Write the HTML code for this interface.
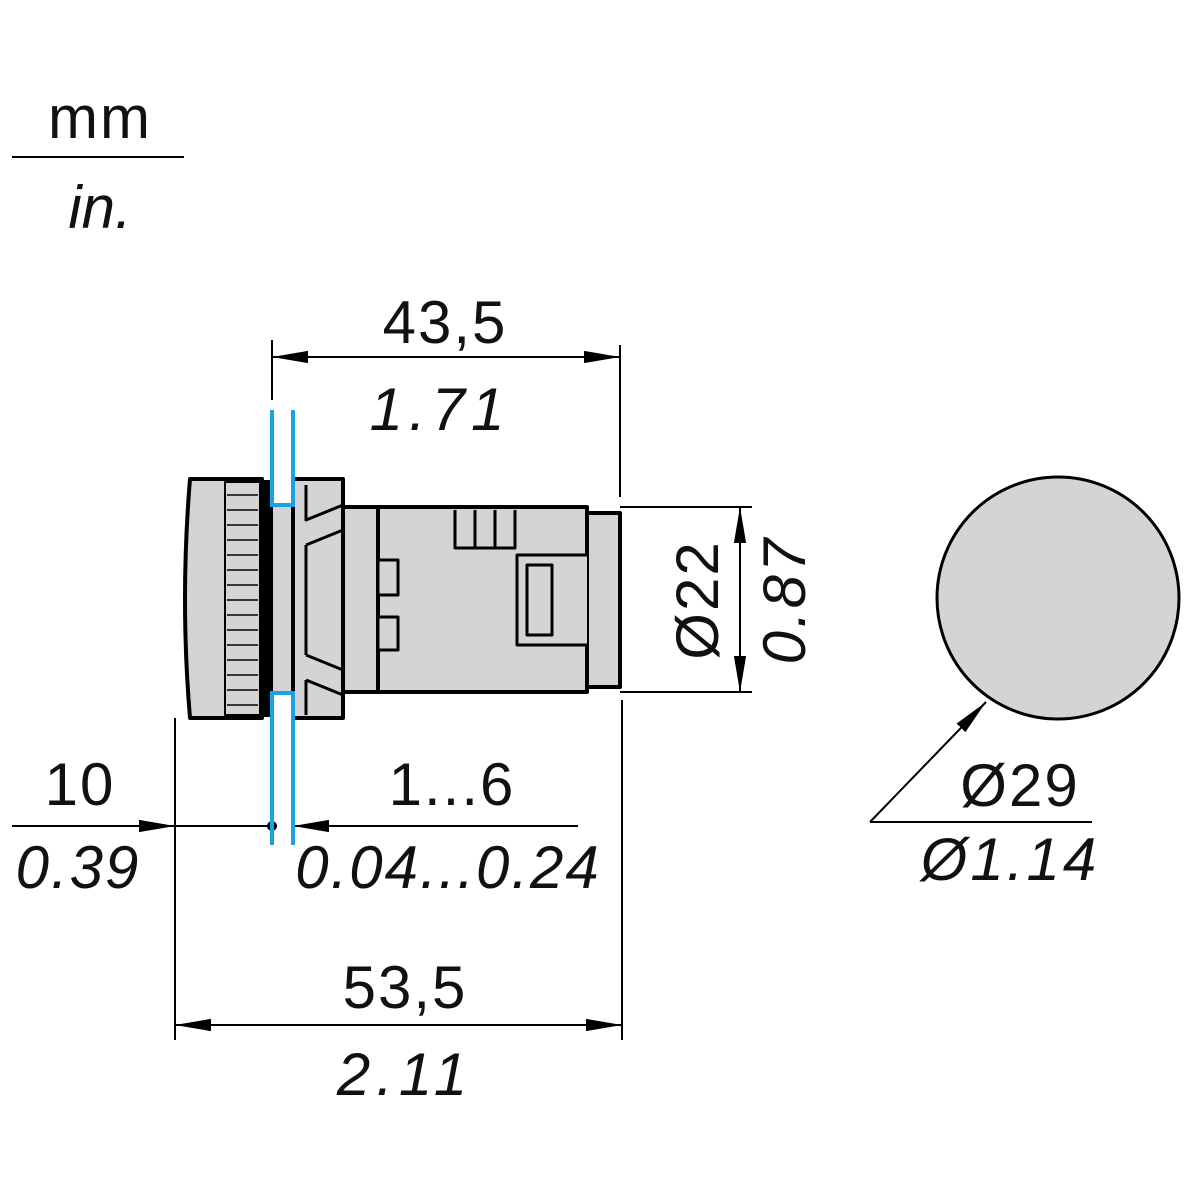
<!DOCTYPE html>
<html><head><style>body{margin:0;background:#fff}svg{display:block}</style></head><body>
<svg width="1200" height="1200" viewBox="0 0 1200 1200" xmlns="http://www.w3.org/2000/svg" font-family="Liberation Sans, sans-serif">
<defs>
<marker id="b" viewBox="0 0 10 10" refX="10" refY="5" markerWidth="36" markerHeight="36" markerUnits="userSpaceOnUse" orient="auto-start-reverse"><path d="M0,3.3 L10,5 L0,6.7z" fill="#000"/></marker>
</defs>
<g font-size="60" fill="#111">
<text x="100" y="138" text-anchor="middle" letter-spacing="2">mm</text>
<text x="100" y="228" text-anchor="middle" font-style="italic">in.</text>
<text x="445" y="343" text-anchor="middle" letter-spacing="2">43,5</text>
<text x="440" y="430" text-anchor="middle" font-style="italic" letter-spacing="6">1.71</text>
<text x="80" y="805" text-anchor="middle" letter-spacing="2">10</text>
<text x="78" y="888" text-anchor="middle" font-style="italic" letter-spacing="2">0.39</text>
<text x="452" y="805" text-anchor="middle" letter-spacing="2">1...6</text>
<text x="448" y="888" text-anchor="middle" font-style="italic" letter-spacing="2">0.04...0.24</text>
<text x="405" y="1008" text-anchor="middle" letter-spacing="2">53,5</text>
<text x="405" y="1095" text-anchor="middle" font-style="italic" letter-spacing="6">2.11</text>
<text x="1020" y="806" text-anchor="middle" letter-spacing="2">Ø29</text>
<text x="1010" y="880" text-anchor="middle" font-style="italic" letter-spacing="3">Ø1.14</text>
<text transform="translate(718,600) rotate(-90)" text-anchor="middle" letter-spacing="2">Ø22</text>
<text transform="translate(805,600) rotate(-90)" text-anchor="middle" font-style="italic" letter-spacing="3">0.87</text>
</g>
<g stroke="#000" stroke-width="2" fill="none">
<line x1="12" y1="157" x2="184" y2="157"/>
<line x1="272" y1="340" x2="272" y2="400"/>
<line x1="620" y1="345" x2="620" y2="497"/>
<line x1="272" y1="357" x2="620" y2="357" marker-start="url(#b)" marker-end="url(#b)"/>
<line x1="175" y1="718" x2="175" y2="1040"/>
<line x1="622" y1="700" x2="622" y2="1040"/>
<line x1="175" y1="1025" x2="622" y2="1025" marker-start="url(#b)" marker-end="url(#b)"/>
<line x1="12" y1="826" x2="175" y2="826" marker-end="url(#b)"/>
<line x1="175" y1="826" x2="272" y2="826"/>
<line x1="578" y1="826" x2="293" y2="826" marker-end="url(#b)"/>
<line x1="620" y1="507" x2="752" y2="507"/>
<line x1="620" y1="692" x2="752" y2="692"/>
<line x1="740" y1="507" x2="740" y2="692" marker-start="url(#b)" marker-end="url(#b)"/>
<line x1="1092" y1="822" x2="870" y2="822"/>
<line x1="870" y1="822" x2="986" y2="702" marker-end="url(#b)"/>
</g>
<circle cx="272" cy="826" r="5" fill="#000"/>
<circle cx="1058" cy="598" r="121" fill="#d4d4d6" stroke="#000" stroke-width="3"/>
<g stroke="#000" stroke-width="4" fill="#d4d4d6" stroke-linejoin="round">
<path d="M190,479 L262,479 L262,718 L190,718 Q180,600 190,479z"/>
<rect x="225" y="482" width="35" height="233" stroke-width="2"/>
<rect x="272" y="505" width="21" height="188" stroke-width="2"/>
<rect x="262" y="482" width="7" height="233" fill="#000"/>
<rect x="293" y="479" width="50" height="239"/>
<path d="M306,485 L306,520 L343,505 M306,545 L306,655 M306,545 L343,530 M306,655 L343,670 M306,680 L306,715 M306,680 L343,695" fill="none" stroke-width="3"/>
<rect x="343" y="507" width="244" height="185"/>
<line x1="378" y1="507" x2="378" y2="692"/>
<rect x="587" y="513" width="33" height="174"/>
<path d="M455,510 L455,548 L515,548 L515,510 M475,510 L475,548 M495,510 L495,548" fill="none" stroke-width="3"/>
<rect x="378" y="560" width="20" height="35" stroke-width="3"/>
<rect x="378" y="617" width="20" height="33" stroke-width="3"/>
<path d="M587,555 L517,555 L517,645 L587,645" stroke-width="3"/>
<rect x="527" y="565" width="25" height="70" stroke-width="3"/>
</g>
<g stroke="#000" stroke-width="1.5">
<line x1="227" y1="495" x2="258" y2="495"/><line x1="227" y1="510" x2="258" y2="510"/><line x1="227" y1="525" x2="258" y2="525"/><line x1="227" y1="540" x2="258" y2="540"/><line x1="227" y1="555" x2="258" y2="555"/><line x1="227" y1="570" x2="258" y2="570"/><line x1="227" y1="585" x2="258" y2="585"/><line x1="227" y1="600" x2="258" y2="600"/><line x1="227" y1="615" x2="258" y2="615"/><line x1="227" y1="630" x2="258" y2="630"/><line x1="227" y1="645" x2="258" y2="645"/><line x1="227" y1="660" x2="258" y2="660"/><line x1="227" y1="675" x2="258" y2="675"/><line x1="227" y1="690" x2="258" y2="690"/><line x1="227" y1="705" x2="258" y2="705"/>
</g>
<g stroke="#1aa3e0" stroke-width="4" fill="none">
<path d="M272,410 L272,505 L293,505 L293,410"/>
<path d="M272,845 L272,693 L293,693 L293,845"/>
</g>
</svg>
</body></html>
